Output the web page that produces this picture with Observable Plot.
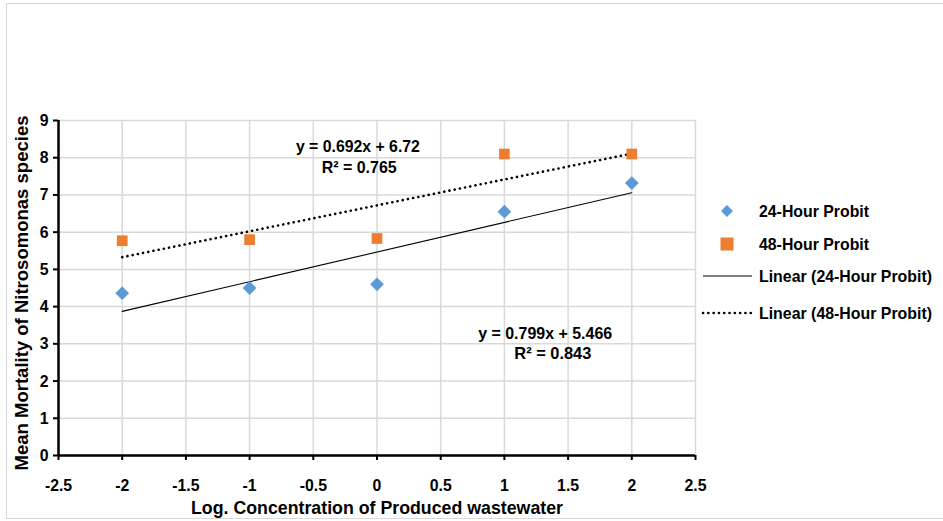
<!DOCTYPE html>
<html>
<head>
<meta charset="utf-8">
<script src="https://cdn.jsdelivr.net/npm/d3@7"></script>
<script src="https://cdn.jsdelivr.net/npm/@observablehq/plot@0.6"></script>
<style>
  html, body { margin: 0; padding: 0; background: #fff; }
  #wrap { position: relative; width: 943px; height: 521px; overflow: hidden; }
  #frame { position: absolute; left: 6px; top: 3px; width: 945px; height: 516px; border: 1.5px solid #d9d9d9; box-sizing: border-box; pointer-events: none; }
</style>
</head>
<body>
<div id="wrap">
  <div id="chart"></div>
  <div id="frame"></div>
</div>
<script>
// Data
const xValues = [-2, -1, 0, 1, 2];
const probit24 = [4.36, 4.50, 4.60, 6.55, 7.32];
const probit48 = [5.77, 5.80, 5.83, 8.10, 8.10];
const seriesNames = ["24-Hour Probit", "48-Hour Probit", "Linear (24-Hour Probit)", "Linear (48-Hour Probit)"];
const xTicks = [-2.5, -2, -1.5, -1, -0.5, 0, 0.5, 1, 1.5, 2, 2.5];
const yTicks = [0, 1, 2, 3, 4, 5, 6, 7, 8, 9];
const eq24 = ["y = 0.799x + 5.466", "R² = 0.843"];
const eq48 = ["y = 0.692x + 6.72", "R² = 0.765"];
const xLabel = "Log. Concentration of Produced wastewater";
const yLabel = "Mean Mortality of Nitrosomonas species";

const blue = "#5B9BD5", orange = "#ED7D31";
const font = '"Liberation Sans Narrow", "Liberation Sans", Arial, sans-serif';

const d24 = xValues.map((x, i) => ({x, y: probit24[i]}));
const d48 = xValues.map((x, i) => ({x, y: probit48[i]}));

const fmt = d => String(d);

const plot = Plot.plot({
  width: 943,
  height: 521,
  marginLeft: 58,
  marginRight: 248,
  marginTop: 120,
  marginBottom: 66,
  style: {fontFamily: font, fontWeight: "bold", fontSize: "16px", background: "transparent"},
  x: {domain: [-2.5, 2.5], ticks: xTicks, tickFormat: fmt},
  y: {domain: [0, 9], ticks: yTicks, tickFormat: fmt},
  marks: [
    Plot.gridX(xTicks, {stroke: "#d9d9d9", strokeOpacity: 1, strokeWidth: 1.5}),
    Plot.gridY(yTicks, {stroke: "#d9d9d9", strokeOpacity: 1, strokeWidth: 1.5}),
    Plot.axisX(xTicks, {tickSize: 5, tickPadding: 18, stroke: "#000", strokeWidth: 2, fill: "#000", fontSize: 17, tickFormat: fmt, label: null}),
    Plot.axisY(yTicks, {tickSize: 5, tickPadding: 5, stroke: "#000", strokeWidth: 2, fill: "#000", fontSize: 17, tickFormat: fmt, label: null}),
    Plot.ruleY([0], {stroke: "#000", strokeWidth: 2.5}),
    Plot.ruleX([-2.5], {stroke: "#000", strokeWidth: 2.5}),
    Plot.linearRegressionY(d24, {x: "x", y: "y", ci: 0, stroke: "#000", strokeWidth: 1.1}),
    Plot.linearRegressionY(d48, {x: "x", y: "y", ci: 0, stroke: "#000", strokeWidth: 2.6, strokeDasharray: "0.1 5.2", strokeLinecap: "round"}),
    Plot.dot(d24, {x: "x", y: "y", symbol: "diamond2", r: 6.2, fill: blue, stroke: "none"}),
    Plot.dot(d48, {x: "x", y: "y", symbol: "square2", r: 6.8, fill: orange, stroke: "none"}),
    Plot.text([eq48[0]], {x: -0.15, y: 8.3, text: d => d, fontSize: 16.5, fill: "#000"}),
    Plot.text([eq48[1]], {x: -0.14, y: 7.74, text: d => d, fontSize: 16.5, fill: "#000"}),
    Plot.text([eq24[0]], {x: 1.32, y: 3.27, text: d => d, fontSize: 16.5, fill: "#000"}),
    Plot.text([eq24[1]], {x: 1.38, y: 2.73, text: d => d, fontSize: 16.5, fill: "#000"}),
    Plot.text([xLabel], {frameAnchor: "bottom", dy: 58, text: d => d, fontSize: 18, fill: "#000"}),
    Plot.text([yLabel], {frameAnchor: "left", textAnchor: "middle", dx: -36, dy: 5, rotate: -90, text: d => d, fontSize: 18, fill: "#000"})
  ]
});
document.getElementById("chart").appendChild(plot);

// Narrow-font emulation: fit texts to the widths seen in the reference
const fitWidths = new Map([
  [xLabel, 372], [yLabel, 355],
  [eq48[0], 124], [eq48[1], 75], [eq24[0], 134], [eq24[1], 77]
]);
d3.select(plot).selectAll("text").each(function() {
  const t = this.textContent;
  const w = fitWidths.has(t) ? fitWidths.get(t) : this.getComputedTextLength() * 0.93;
  d3.select(this).attr("textLength", w).attr("lengthAdjust", "spacingAndGlyphs");
});

// Legend (drawn into the same SVG)
const lg = d3.select(plot).append("g").attr("transform", "translate(700,198)")
  .attr("font-family", font).attr("font-weight", "bold").attr("font-size", 17)
  .attr("fill", "#000").attr("text-anchor", "start");
const legendItems = [
  {name: seriesNames[0], y: 13, w: 110, draw: (g, y) => g.append("path").attr("d", `M27,${y-6} L33,${y} L27,${y+6} L21,${y} Z`).attr("fill", blue)},
  {name: seriesNames[1], y: 46, w: 110, draw: (g, y) => g.append("rect").attr("x", 20.5).attr("y", y - 6.5).attr("width", 13).attr("height", 13).attr("fill", orange)},
  {name: seriesNames[2], y: 78, w: 173, draw: (g, y) => g.append("line").attr("x1", 3).attr("x2", 52).attr("y1", y).attr("y2", y).attr("stroke", "#000").attr("stroke-width", 1.1)},
  {name: seriesNames[3], y: 115, w: 173, draw: (g, y) => g.append("line").attr("x1", 3).attr("x2", 52).attr("y1", y).attr("y2", y).attr("stroke", "#000").attr("stroke-width", 2.6).attr("stroke-dasharray", "0.1 5.2").attr("stroke-linecap", "round")}
];
legendItems.forEach(it => {
  it.draw(lg, it.y);
  lg.append("text").attr("x", 59).attr("y", it.y).attr("dy", "0.36em").text(it.name)
    .attr("textLength", it.w).attr("lengthAdjust", "spacingAndGlyphs");
});
</script>
</body>
</html>
